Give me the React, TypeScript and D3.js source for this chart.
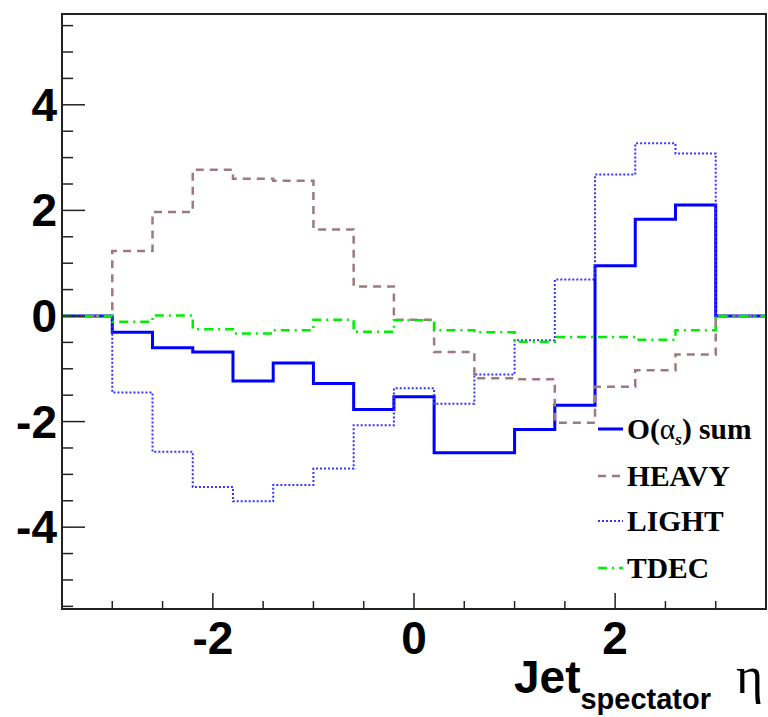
import React, { useEffect, useRef } from "react";
import * as d3 from "d3";

// bin edges of the eta histogram (outer bins are empty)
const binEdges = [-3.5, -3.0, -2.6, -2.2, -1.8, -1.4, -1.0, -0.6, -0.2, 0.2, 0.6, 1.0, 1.4, 1.8, 2.2, 2.6, 3.0, 3.5];

const sumValues = [0, -0.31, -0.60, -0.68, -1.23, -0.89, -1.28, -1.77, -1.53, -2.59, -2.59, -2.15, -1.69, 0.95, 1.83, 2.10, 0];
const heavyValues = [0, 1.23, 1.97, 2.77, 2.60, 2.56, 1.64, 0.56, -0.07, -0.68, -1.18, -1.20, -2.02, -1.34, -1.03, -0.73, 0];
const lightValues = [0, -1.45, -2.57, -3.24, -3.51, -3.20, -2.89, -2.07, -1.37, -1.66, -1.11, -0.46, 0.69, 2.68, 3.27, 3.08, 0];
const tdecValues = [0, -0.11, 0.01, -0.25, -0.33, -0.27, -0.07, -0.30, -0.08, -0.27, -0.31, -0.49, -0.40, -0.40, -0.45, -0.27, 0];

const xMajorTicks = [-2, 0, 2];
const yMajorTicks = [-4, -2, 0, 2, 4];
const legendNames = ["O(αs) sum", "HEAVY", "LIGHT", "TDEC"];

const W = 768;
const H = 717;
const FRAME = { left: 62, right: 766, top: 14, bottom: 609 };

export default function App() {
  const ref = useRef<SVGSVGElement>(null);

  useEffect(() => {
    const svg = d3.select(ref.current);
    svg.selectAll("*").remove();

    const x = d3.scaleLinear().domain([-3.5, 3.5]).range([FRAME.left, FRAME.right]);
    const y = d3.scaleLinear().domain([-5.55, 5.72]).range([FRAME.bottom, FRAME.top]);

    const series = [
      { name: legendNames[0], values: sumValues, color: "#0000ff", width: 3, dash: null },
      { name: legendNames[1], values: heavyValues, color: "#9c7a7e", width: 2.5, dash: "8,6" },
      { name: legendNames[2], values: lightValues, color: "#3535ff", width: 2, dash: "2,2" },
      { name: legendNames[3], values: tdecValues, color: "#00ee00", width: 2.5, dash: "9,5,2,5" },
    ];

    const line = d3.line<[number, number]>()
      .x(d => x(d[0]))
      .y(d => y(d[1]))
      .curve(d3.curveStepAfter);

    series.forEach(s => {
      const pts: [number, number][] = binEdges.map((e, i) => [e, s.values[Math.min(i, s.values.length - 1)]]);
      svg.append("path")
        .datum(pts)
        .attr("d", line)
        .attr("fill", "none")
        .attr("stroke", s.color)
        .attr("stroke-width", s.width)
        .attr("stroke-dasharray", s.dash)
        .attr("stroke-linejoin", "miter");
    });

    // frame
    svg.append("rect")
      .attr("x", FRAME.left)
      .attr("y", FRAME.top)
      .attr("width", FRAME.right - FRAME.left)
      .attr("height", FRAME.bottom - FRAME.top)
      .attr("fill", "none")
      .attr("stroke", "#222")
      .attr("stroke-width", 2);

    const axes = svg.append("g").attr("stroke", "#222").attr("stroke-width", 1.5);

    // y ticks
    d3.range(-5.5, 5.51, 0.5).forEach(v => {
      const major = yMajorTicks.includes(v);
      axes.append("line")
        .attr("x1", FRAME.left).attr("x2", FRAME.left + (major ? 23 : 11))
        .attr("y1", y(v)).attr("y2", y(v));
    });
    // x ticks
    d3.range(-3.0, 3.01, 0.5).forEach(v => {
      const major = xMajorTicks.includes(Math.round(v * 10) / 10);
      axes.append("line")
        .attr("x1", x(v)).attr("x2", x(v))
        .attr("y1", FRAME.bottom).attr("y2", FRAME.bottom - (major ? 16 : 8));
    });

    const labelFont = "'Liberation Sans', Arial, sans-serif";
    yMajorTicks.forEach(v => {
      svg.append("text")
        .attr("x", 57)
        .attr("y", y(v) + 16)
        .attr("text-anchor", "end")
        .attr("font-family", labelFont)
        .attr("font-weight", "bold")
        .attr("font-size", 46)
        .text(String(v));
    });
    xMajorTicks.forEach(v => {
      svg.append("text")
        .attr("x", x(v))
        .attr("y", 654)
        .attr("text-anchor", "middle")
        .attr("font-family", labelFont)
        .attr("font-weight", "bold")
        .attr("font-size", 46)
        .text(String(v));
    });

    // axis title
    const title = svg.append("text")
      .attr("x", 514)
      .attr("y", 693)
      .attr("font-family", labelFont)
      .attr("font-weight", "bold")
      .attr("font-size", 46);
    title.append("tspan").text("Jet");
    title.append("tspan").attr("font-size", 29).attr("dy", 16).text("spectator");
    svg.append("text")
      .attr("x", 736)
      .attr("y", 693)
      .attr("font-family", "'Liberation Serif', serif")
      .attr("font-size", 52)
      .text("η");

    // legend
    const legendY = [429, 476, 521, 568];
    series.forEach((s, i) => {
      svg.append("line")
        .attr("x1", 598).attr("x2", 623)
        .attr("y1", legendY[i]).attr("y2", legendY[i])
        .attr("stroke", s.color)
        .attr("stroke-width", s.width)
        .attr("stroke-dasharray", s.dash);
      const t = svg.append("text")
        .attr("x", 627)
        .attr("y", legendY[i] + 10)
        .attr("font-family", "'Liberation Serif', 'Times New Roman', serif")
        .attr("font-weight", "bold")
        .attr("font-size", 29.5);
      if (i === 0) {
        t.append("tspan").text("O(");
        t.append("tspan").attr("font-weight", "normal").text("α");
        t.append("tspan").attr("font-size", 17).attr("font-style", "italic").attr("dy", 6).text("s");
        t.append("tspan").attr("dy", -6).text(") sum");
      } else {
        t.text(s.name);
      }
    });
  }, []);

  return (
    <svg
      ref={ref}
      width={W}
      height={H}
      style={{ position: "absolute", left: 0, top: 0, background: "#fff" }}
    />
  );
}
